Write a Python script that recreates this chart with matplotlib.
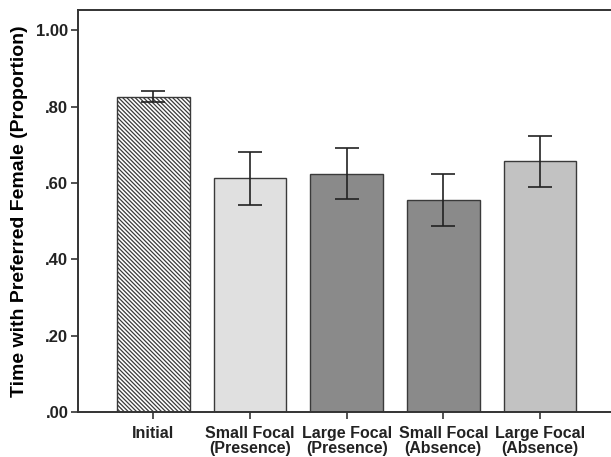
import matplotlib.pyplot as plt
import numpy as np

# data
categories = ["Initial", "Small Focal\n(Presence)", "Large Focal\n(Presence)",
              "Small Focal\n(Absence)", "Large Focal\n(Absence)"]
means = [0.826, 0.612, 0.625, 0.556, 0.657]
err_low = [0.811, 0.543, 0.558, 0.487, 0.591]
err_high = [0.842, 0.682, 0.691, 0.625, 0.722]
colors = ["white", "#e0e0e0", "#8a8a8a", "#8a8a8a", "#c2c2c2"]
hatches = ["\\\\\\\\\\\\\\\\", None, None, None, None]
yticks = [0, 0.2, 0.4, 0.6, 0.8, 1.0]
ytick_labels = [".00", ".20", ".40", ".60", ".80", "1.00"]

plt.rcParams["font.family"] = ["Liberation Sans", "DejaVu Sans"]
plt.rcParams["hatch.color"] = "#5a5a5a"
plt.rcParams["hatch.linewidth"] = 0.9

fig = plt.figure(figsize=(6.11, 4.57), dpi=100)
ax = fig.add_axes([78 / 611, 1 - 412.3 / 457, 545 / 611, 402.3 / 457])

x = np.arange(len(categories))
bars = ax.bar(x, means, width=0.75, color=colors, edgecolor="#3a3a3a", linewidth=1.0)
for b, h in zip(bars, hatches):
    if h:
        b.set_hatch(h)

lower = np.array(means) - np.array(err_low)
upper = np.array(err_high) - np.array(means)
ax.errorbar(x, means, yerr=[lower, upper], fmt="none", ecolor="#222222",
            elinewidth=1.2, capsize=8.5, capthick=1.2)

ax.set_xlim(-0.78, 4.86)
ax.set_ylim(0, 1.053)
ax.set_yticks(yticks)
ax.set_yticklabels(ytick_labels, fontsize=12, fontweight="bold", color="#222222")
ax.set_xticks(x)
ax.set_xticklabels(categories, fontsize=11.5, fontweight="bold", color="#222222",
                   linespacing=0.95)
ax.tick_params(axis="y", length=5, width=1.2, color="#333333", pad=2)
ax.tick_params(axis="x", length=5, width=1.2, color="#333333", pad=5)

for s in ax.spines.values():
    s.set_linewidth(1.4)
    s.set_color("#333333")

ax.set_ylabel("Time with Preferred Female (Proportion)", fontsize=14,
              fontweight="bold", labelpad=6)

fig.savefig("out.png", dpi=100)
